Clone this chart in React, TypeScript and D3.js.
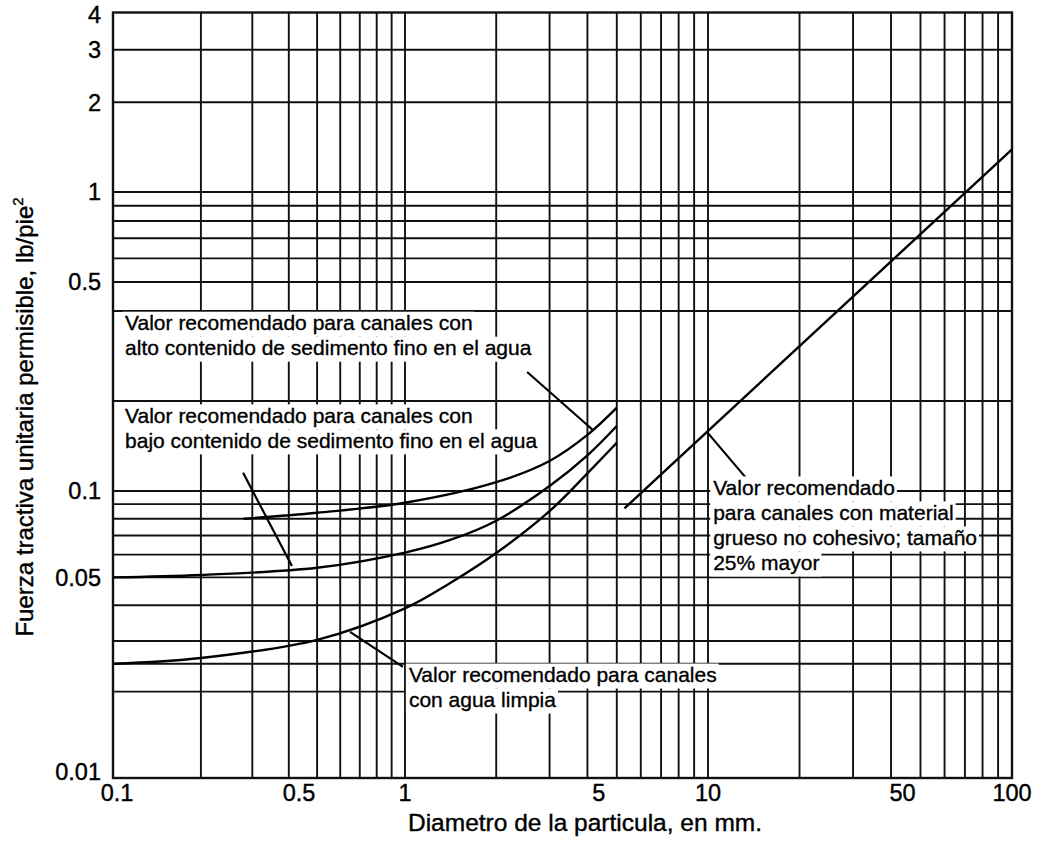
import React, { useEffect, useRef } from "react";
import * as d3 from "d3";

// ---------- data ----------
const xBreaks = [0.1, 1, 10, 100];
const yBreaks = [0.01, 0.1, 1, 4];

const yGridValues = [0.02, 0.025, 0.03, 0.04, 0.05, 0.06, 0.07, 0.08, 0.09, 0.1, 0.2, 0.4, 0.5, 0.6, 0.7, 0.8, 0.9, 1, 2, 3];

const xTickValues = [0.1, 0.5, 1, 5, 10, 50, 100];
const xTickLabels = ["0.1", "0.5", "1", "5", "10", "50", "100"];
const yTickValues = [0.01, 0.05, 0.1, 0.5, 1, 2, 3, 4];
const yTickLabels = ["0.01", "0.05", "0.1", "0.5", "1", "2", "3", "4"];

// high content of fine sediment
const highSedD = [0.28, 0.5, 1, 2, 3, 4, 5];
const highSedT = [0.08, 0.084, 0.091, 0.107, 0.126, 0.154, 0.19];
// low content of fine sediment
const lowSedD = [0.1, 0.2, 0.5, 1, 1.41, 2, 3, 4, 5];
const lowSedT = [0.05, 0.051, 0.054, 0.061, 0.0675, 0.0788, 0.1039, 0.1316, 0.165];
// clear water
const clearD = [0.1, 0.2, 0.5, 1, 1.41, 2, 3, 4, 5];
const clearT = [0.025, 0.0262, 0.0303, 0.039, 0.0478, 0.0608, 0.0851, 0.1146, 0.145];
// coarse non-cohesive
const coarseD = [5.3, 100];
const coarseT = [0.087, 1.39];

// pointer lines [from, to]
const pointerHighD = [2.53, 4.17];
const pointerHighT = [0.25, 0.16];
const pointerLowD = [0.279, 0.41];
const pointerLowT = [0.115, 0.0548];
const pointerClearD = [0.648, 0.984];
const pointerClearT = [0.0323, 0.0244];
const pointerCoarseD = [9.9, 13.4];
const pointerCoarseT = [0.158, 0.11];

const labelHigh = ["Valor recomendado para canales con", "alto contenido de sedimento fino en el agua"];
const labelLow = ["Valor recomendado para canales con", "bajo contenido de sedimento fino en el agua"];
const labelClear = ["Valor recomendado para canales", "con agua limpia"];
const labelCoarse = ["Valor recomendado", "para canales con material", "grueso no cohesivo; tamaño", "25% mayor"];
const labelAnchorD = [0.11, 0.11, 1.03, 10.4];
const labelAnchorT = [0.345, 0.169, 0.0216, 0.0969];

const xTitle = "Diametro de la particula, en mm.";
const yTitle = "Fuerza tractiva unitaria permisible, lb/pie";
const yTitleSup = "2";

const FONT = "'Liberation Sans', Arial, Helvetica, sans-serif";

export default function App() {
  const ref = useRef<SVGSVGElement>(null);

  useEffect(() => {
    const svg = d3.select(ref.current);
    svg.selectAll("*").remove();

    const x = d3.scaleLog().domain(xBreaks).range([113, 405, 708, 1012]);
    const y = d3.scaleLog().domain(yBreaks).range([778, 491, 192, 12.5]);

    const x0 = x(0.1), x1 = x(100), y0 = y(0.01), y1 = y(4);

    // vertical grid
    const xGrid: number[] = [];
    [0.1, 1, 10].forEach((k) => {
      for (let m = 2; m <= 9; m++) xGrid.push(+(m * k).toPrecision(3));
    });
    xGrid.push(1, 10);

    const grid = svg.append("g").attr("stroke", "#111").attr("stroke-width", 1.9);
    grid
      .selectAll("line.v")
      .data(xGrid)
      .join("line")
      .attr("x1", (d) => x(d))
      .attr("x2", (d) => x(d))
      .attr("y1", y1)
      .attr("y2", y0);
    grid
      .selectAll("line.h")
      .data(yGridValues)
      .join("line")
      .attr("x1", x0)
      .attr("x2", x1)
      .attr("y1", (d) => y(d))
      .attr("y2", (d) => y(d));

    svg
      .append("rect")
      .attr("x", x0)
      .attr("y", y1)
      .attr("width", x1 - x0)
      .attr("height", y0 - y1)
      .attr("fill", "none")
      .attr("stroke", "#111")
      .attr("stroke-width", 2.4);

    // curves
    const line = d3
      .line<[number, number]>()
      .x((d) => x(d[0]))
      .y((d) => y(d[1]))
      .curve(d3.curveCatmullRom.alpha(0.5));
    const straight = d3
      .line<[number, number]>()
      .x((d) => x(d[0]))
      .y((d) => y(d[1]));

    const series: [number[], number[]][] = [
      [highSedD, highSedT],
      [lowSedD, lowSedT],
      [clearD, clearT],
    ];
    series.forEach(([ds, ts]) => {
      svg
        .append("path")
        .attr("d", line(ds.map((d, i) => [d, ts[i]] as [number, number])))
        .attr("fill", "none")
        .attr("stroke", "#000")
        .attr("stroke-width", 2.4);
    });
    svg
      .append("path")
      .attr("d", straight(coarseD.map((d, i) => [d, coarseT[i]] as [number, number])))
      .attr("fill", "none")
      .attr("stroke", "#000")
      .attr("stroke-width", 2.4);

    const pointers: [number[], number[]][] = [
      [pointerHighD, pointerHighT],
      [pointerLowD, pointerLowT],
      [pointerClearD, pointerClearT],
      [pointerCoarseD, pointerCoarseT],
    ];
    pointers.forEach(([ds, ts]) => {
      svg
        .append("path")
        .attr("d", straight(ds.map((d, i) => [d, ts[i]] as [number, number])))
        .attr("fill", "none")
        .attr("stroke", "#000")
        .attr("stroke-width", 2.2);
    });

    // annotation labels with white boxes per line
    const labels = [labelHigh, labelLow, labelClear, labelCoarse];
    const fs = 21;
    const lh = 25;
    labels.forEach((lines, li) => {
      const g = svg.append("g");
      const ax = x(labelAnchorD[li]);
      const ay = y(labelAnchorT[li]);
      lines.forEach((txt, i) => {
        const by = ay + i * lh;
        const rect = g.append("rect").attr("fill", "#fff");
        const t = g
          .append("text")
          .attr("x", ax)
          .attr("y", by)
          .attr("font-family", FONT)
          .attr("font-size", fs)
          .attr("fill", "#000")
          .attr("stroke", "#000")
          .attr("stroke-width", 0.35)
          .text(txt);
        const w = (t.node() as SVGTextElement).getComputedTextLength();
        rect
          .attr("x", ax - 3)
          .attr("y", by - fs * 0.88)
          .attr("width", w + 5)
          .attr("height", lh);
      });
    });

    // tick labels
    const xOffsets = (v: number) => {
      const m = v / Math.pow(10, Math.floor(Math.log10(v) + 1e-9));
      if (Math.abs(m - 5) < 1e-6) return -18;
      if (Math.abs(v - 0.1) < 1e-9) return 4;
      return 0;
    };
    svg
      .append("g")
      .selectAll("text")
      .data(xTickValues)
      .join("text")
      .attr("x", (d) => x(d) + xOffsets(d))
      .attr("y", 801)
      .attr("text-anchor", "middle")
      .attr("font-family", FONT)
      .attr("font-size", 23.5)
      .attr("fill", "#000")
      .attr("stroke", "#000")
      .attr("stroke-width", 0.4)
      .text((d, i) => xTickLabels[i]);

    svg
      .append("g")
      .selectAll("text")
      .data(yTickValues)
      .join("text")
      .attr("x", 101)
      .attr("y", (d) => y(d) + (d === 0.01 ? -6 : 0) + (d === 4 ? 2 : 0))
      .attr("dy", "0.36em")
      .attr("text-anchor", "end")
      .attr("font-family", FONT)
      .attr("font-size", 23.5)
      .attr("fill", "#000")
      .attr("stroke", "#000")
      .attr("stroke-width", 0.4)
      .text((d, i) => yTickLabels[i]);

    // axis titles
    svg
      .append("text")
      .attr("x", 585)
      .attr("y", 831)
      .attr("text-anchor", "middle")
      .attr("font-family", FONT)
      .attr("font-size", 24.5)
      .attr("fill", "#000")
      .attr("stroke", "#000")
      .attr("stroke-width", 0.4)
      .text(xTitle);

    const yt = svg
      .append("text")
      .attr("transform", "translate(33,417) rotate(-90)")
      .attr("text-anchor", "middle")
      .attr("font-family", FONT)
      .attr("font-size", 24)
      .attr("fill", "#000")
      .attr("stroke", "#000")
      .attr("stroke-width", 0.4);
    yt.append("tspan").text(yTitle);
    yt.append("tspan").attr("dy", -10).attr("font-size", 15).text(yTitleSup);
  }, []);

  return (
    <svg
      ref={ref}
      width={1050}
      height={848}
      style={{ position: "absolute", left: 0, top: 0, background: "#fff" }}
    />
  );
}
